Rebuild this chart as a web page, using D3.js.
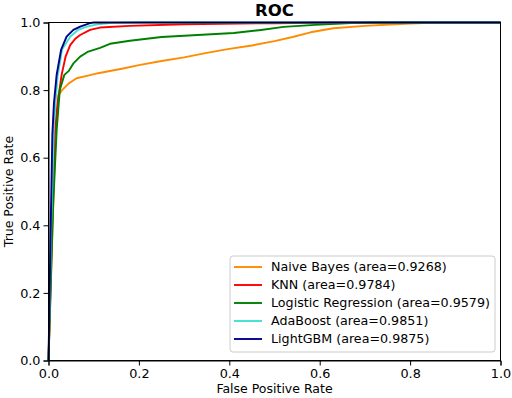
<!DOCTYPE html>
<html lang="en">
<head>
<meta charset="UTF-8">
<title>ROC</title>
<style>
  body { margin: 0; background: #fff; }
  svg { display: block; font-family: "DejaVu Sans", sans-serif; }
</style>
</head>
<body>
<div id="chart"></div>
<script src="https://d3js.org/d3.v7.min.js"></script>
<script>
// ROC curves, [fpr, tpr] pairs
const naiveBayes = [[0,0],[0.008,0.35],[0.016,0.70],[0.022,0.785],[0.03,0.80],[0.045,0.82],[0.062,0.835],[0.085,0.842],[0.11,0.85],[0.13,0.855],[0.165,0.864],[0.2,0.874],[0.25,0.886],[0.3,0.897],[0.35,0.91],[0.4,0.922],[0.45,0.932],[0.5,0.945],[0.54,0.957],[0.58,0.971],[0.63,0.983],[0.7,0.99],[0.8,0.997],[0.86,1],[1,1]];
const knn = [[0,0],[0.007,0.35],[0.014,0.667],[0.02,0.76],[0.029,0.845],[0.038,0.90],[0.048,0.933],[0.06,0.953],[0.07,0.963],[0.092,0.978],[0.114,0.985],[0.18,0.99],[0.3,0.995],[0.5,0.998],[0.62,1],[1,1]];
const logReg = [[0,0],[0.01,0.45],[0.018,0.68],[0.025,0.80],[0.035,0.845],[0.045,0.857],[0.055,0.879],[0.07,0.899],[0.088,0.914],[0.114,0.925],[0.136,0.937],[0.18,0.946],[0.25,0.957],[0.33,0.963],[0.41,0.969],[0.47,0.978],[0.52,0.987],[0.59,0.993],[0.67,0.998],[0.72,1],[1,1]];
const adaBoost = [[0,0],[0.006,0.40],[0.012,0.70],[0.02,0.84],[0.03,0.92],[0.048,0.958],[0.065,0.978],[0.085,0.988],[0.11,0.995],[0.14,0.999],[0.2,1],[1,1]];
const lightGBM = [[0,0],[0.005,0.40],[0.0085,0.667],[0.012,0.76],[0.018,0.845],[0.028,0.92],[0.04,0.958],[0.055,0.978],[0.07,0.988],[0.092,0.998],[0.1,1],[1,1]];

const modelNames = ["Naive Bayes", "KNN", "Logistic Regression", "AdaBoost", "LightGBM"];
const aucValues = ["0.9268", "0.9784", "0.9579", "0.9851", "0.9875"];
const colors = ["darkorange", "red", "green", "turquoise", "darkblue"];
const ticks = [0, 0.2, 0.4, 0.6, 0.8, 1.0];

const curves = [naiveBayes, knn, logReg, adaBoost, lightGBM];

const width = 512, height = 398;
const margin = {top: 22.5, right: 11.5, bottom: 37.5, left: 48.5};

const svg = d3.select("#chart").append("svg")
    .attr("width", width)
    .attr("height", height);

const x = d3.scaleLinear().domain([0, 1]).range([margin.left, width - margin.right]);
const y = d3.scaleLinear().domain([0, 1]).range([height - margin.bottom, margin.top]);

// curves
const line = d3.line().x(d => x(d[0])).y(d => y(d[1]));
svg.append("g")
  .selectAll("path")
  .data(curves)
  .join("path")
    .attr("fill", "none")
    .attr("stroke", (d, i) => colors[i])
    .attr("stroke-width", 1.9)
    .attr("stroke-linejoin", "round")
    .attr("d", line);

// axes
svg.append("g")
    .attr("transform", `translate(0,${height - margin.bottom})`)
    .call(d3.axisBottom(x).tickValues(ticks).tickFormat(d3.format(".1f")).tickSize(5).tickPadding(3))
    .call(g => g.selectAll("text").attr("font-size", 12.8).attr("fill", "#000").attr("font-family", "DejaVu Sans"));

svg.append("g")
    .attr("transform", `translate(${margin.left},0)`)
    .call(d3.axisLeft(y).tickValues(ticks).tickFormat(d3.format(".1f")).tickSize(5).tickPadding(3))
    .call(g => g.selectAll("text").attr("font-size", 12.8).attr("fill", "#000").attr("font-family", "DejaVu Sans"));

// frame
svg.append("rect")
    .attr("x", margin.left).attr("y", margin.top)
    .attr("width", width - margin.left - margin.right)
    .attr("height", height - margin.top - margin.bottom)
    .attr("fill", "none").attr("stroke", "#000").attr("stroke-width", 1);

// labels
svg.append("text")
    .attr("x", (margin.left + width - margin.right) / 2).attr("y", 16)
    .attr("text-anchor", "middle").attr("font-size", 16.5).attr("font-weight", "bold")
    .text("ROC");

svg.append("text")
    .attr("x", (margin.left + width - margin.right) / 2).attr("y", 393)
    .attr("text-anchor", "middle").attr("font-size", 12.5)
    .text("False Positive Rate");

svg.append("text")
    .attr("transform", `translate(13,${(margin.top + height - margin.bottom) / 2}) rotate(-90)`)
    .attr("text-anchor", "middle").attr("font-size", 12.5)
    .text("True Positive Rate");

// legend
const legend = svg.append("g").attr("transform", "translate(230,256)");
legend.append("rect")
    .attr("width", 265).attr("height", 96).attr("rx", 3)
    .attr("fill", "#fff").attr("fill-opacity", 0.8)
    .attr("stroke", "#ccc").attr("stroke-width", 1);

const item = legend.selectAll("g")
  .data(modelNames)
  .join("g")
    .attr("transform", (d, i) => `translate(0,${11 + i * 18})`);
item.append("line")
    .attr("x1", 4).attr("x2", 32)
    .attr("stroke", (d, i) => colors[i]).attr("stroke-width", 1.9);
item.append("text")
    .attr("x", 41).attr("dy", "0.35em").attr("font-size", 12.7)
    .text((d, i) => `${d} (area=${aucValues[i]})`);
</script>
</body>
</html>
